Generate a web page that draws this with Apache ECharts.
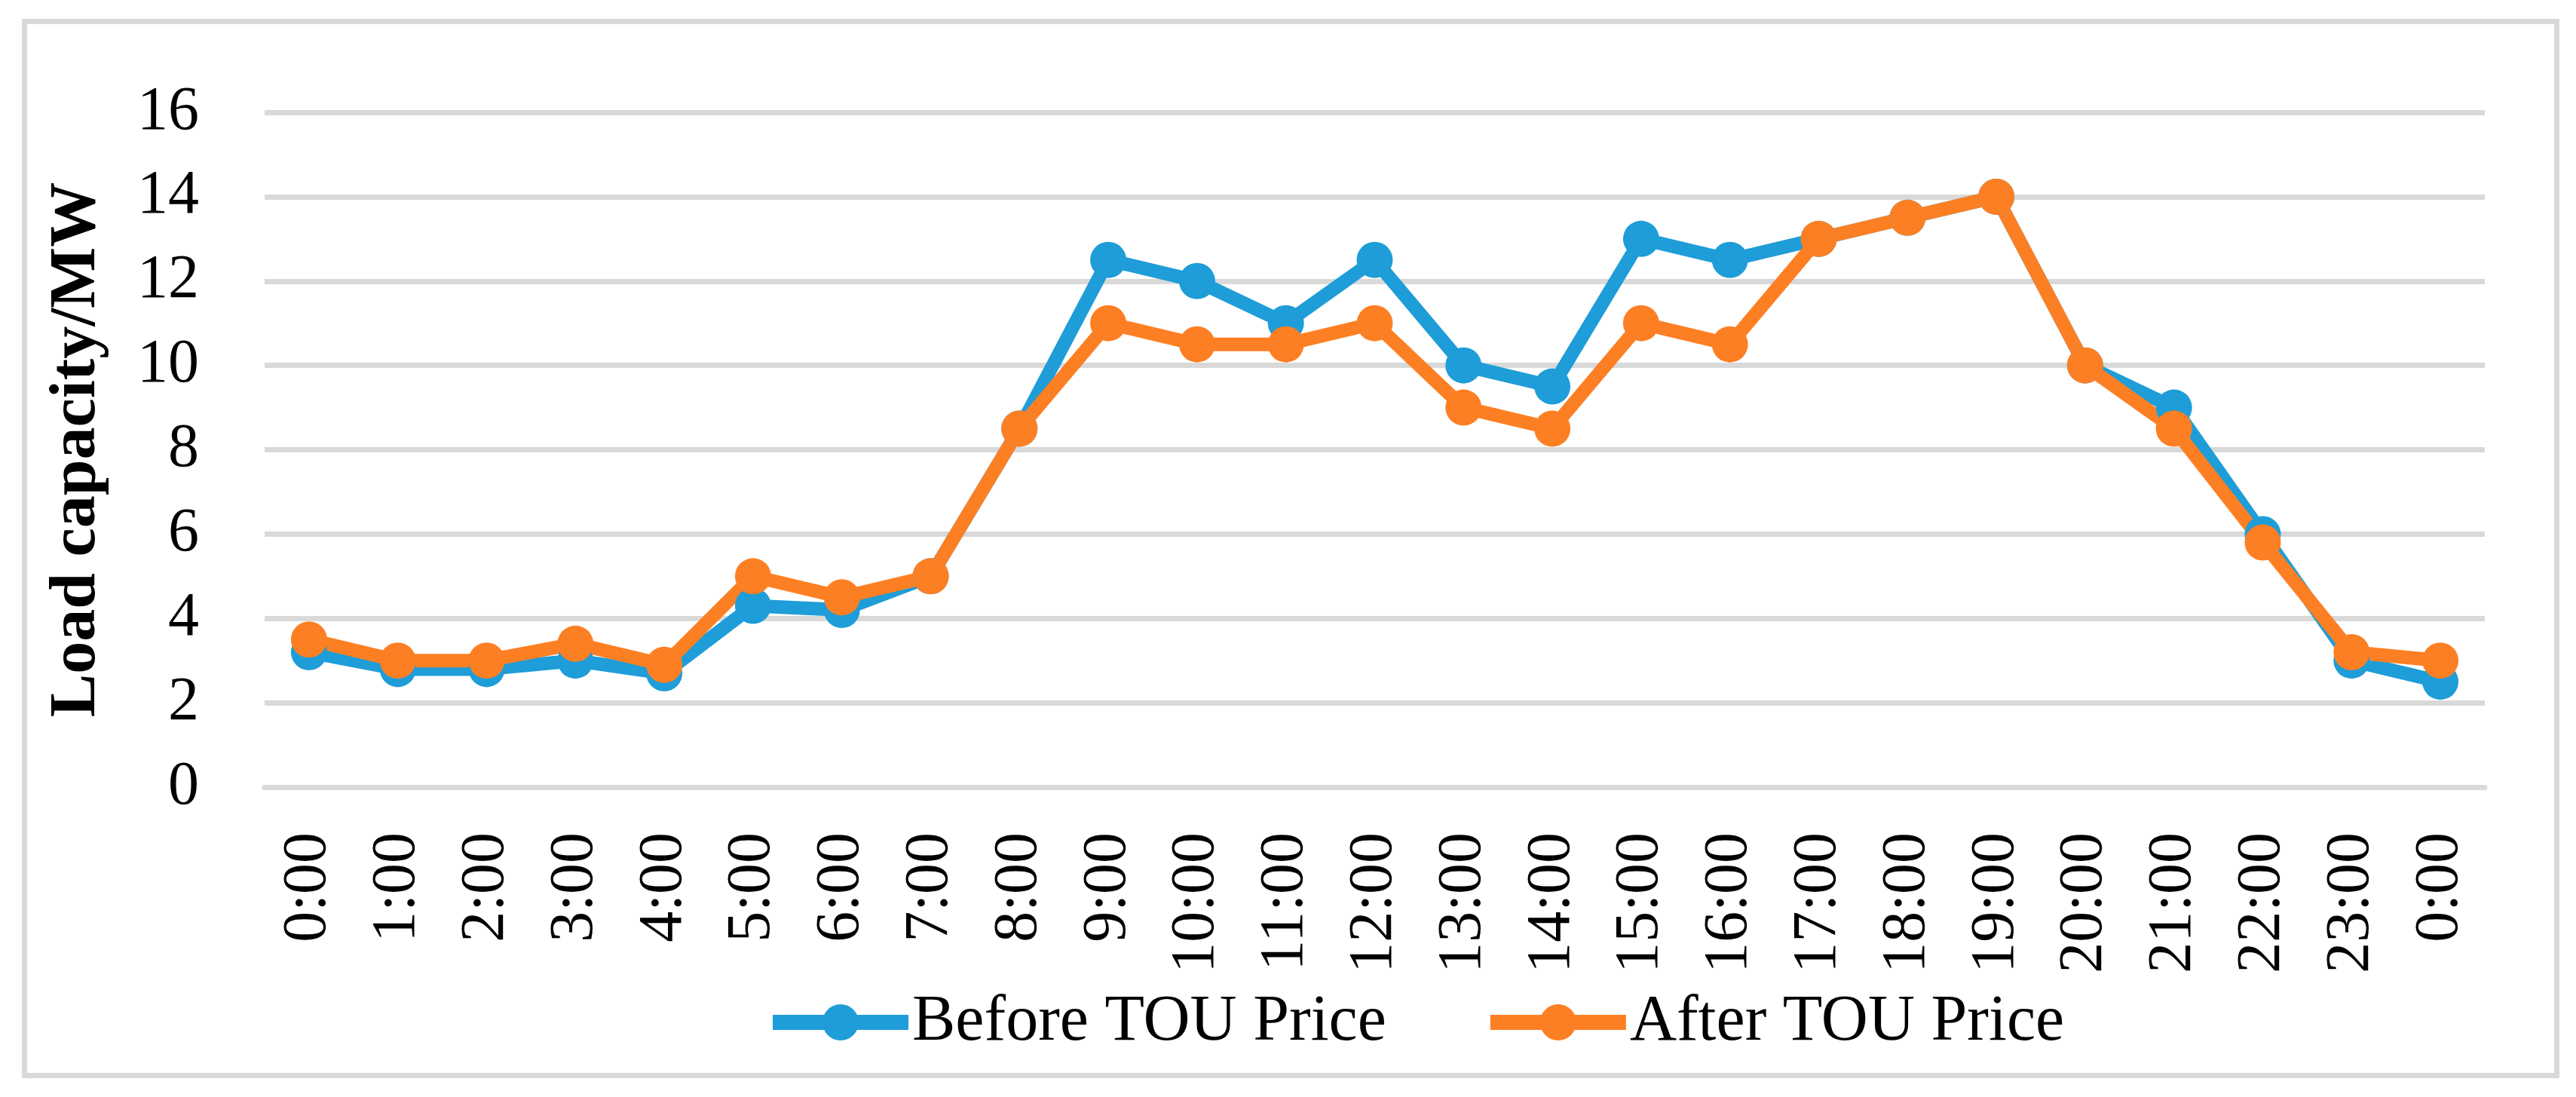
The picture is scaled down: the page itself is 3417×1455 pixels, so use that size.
<!DOCTYPE html>
<html>
<head>
<meta charset="utf-8">
<title>Load capacity before and after TOU price</title>
<script src="https://cdn.jsdelivr.net/npm/echarts@6/dist/echarts.min.js"></script>
<style>
  html, body { margin: 0; padding: 0; background: #fff; }
  #main { width: 3417px; height: 1455px; }
</style>
</head>
<body>
<div id="main"></div>
<script>
var hours = ['0:00', '1:00', '2:00', '3:00', '4:00', '5:00', '6:00', '7:00', '8:00', '9:00',
             '10:00', '11:00', '12:00', '13:00', '14:00', '15:00', '16:00', '17:00', '18:00',
             '19:00', '20:00', '21:00', '22:00', '23:00', '0:00'];
var beforeTOU = [3.2, 2.8, 2.8, 3.0, 2.7, 4.3, 4.2, 5.0, 8.5, 12.5, 12.0, 11.0, 12.5, 10.0, 9.5,
                 13.0, 12.5, 13.0, 13.5, 14.0, 10.0, 9.0, 6.0, 3.0, 2.5];
var afterTOU = [3.5, 3.0, 3.0, 3.4, 2.9, 5.0, 4.5, 5.0, 8.5, 11.0, 10.5, 10.5, 11.0, 9.0, 8.5,
                11.0, 10.5, 13.0, 13.5, 14.0, 10.0, 8.5, 5.8, 3.2, 3.0];
var seriesNames = ['Before TOU Price', 'After TOU Price'];
var yTitle = 'Load capacity/MW';

var fontName = 'Liberation Serif';
var dom = document.getElementById('main');
var myChart = echarts.init(dom);

var option = {
    backgroundColor: '#ffffff',
    animation: false,
    color: ['#1E9DD8', '#FD7F23'],
    graphic: [{
        type: 'rect',
        left: 29, top: 25,
        shape: { width: 3359, height: 1398 },
        style: { fill: 'none', stroke: '#D9D9D9', lineWidth: 7 },
        silent: true
    }],
    grid: {
        left: 351,
        right: 121,
        top: 149,
        bottom: 411
    },
    legend: {
        data: seriesNames,
        left: 1010,
        top: 1308,
        itemWidth: 180,
        itemHeight: 60,
        itemGap: 128,
        lineStyle: { width: 20 },
        textStyle: { fontFamily: fontName, fontSize: 86, color: '#000' }
    },
    xAxis: {
        type: 'category',
        data: hours,
        boundaryGap: true,
        axisLine: { show: true, lineStyle: { color: '#D9D9D9', width: 7 } },
        axisTick: { show: false },
        axisLabel: {
            rotate: 90,
            margin: 60,
            interval: 0,
            fontFamily: fontName,
            fontSize: 82,
            color: '#000'
        }
    },
    yAxis: {
        type: 'value',
        min: 0,
        max: 16,
        interval: 2,
        name: yTitle,
        nameLocation: 'middle',
        nameGap: 205,
        nameTextStyle: { fontFamily: fontName, fontSize: 86, fontWeight: 'bold', color: '#000' },
        axisLine: { show: false },
        axisTick: { show: false },
        splitLine: { lineStyle: { color: '#D9D9D9', width: 7 } },
        axisLabel: {
            margin: 87,
            fontFamily: fontName,
            fontSize: 82,
            color: '#000'
        }
    },
    series: [
        {
            name: seriesNames[0],
            type: 'line',
            data: beforeTOU,
            symbol: 'circle',
            symbolSize: 48,
            showAllSymbol: true,
            lineStyle: { width: 18 }
        },
        {
            name: seriesNames[1],
            type: 'line',
            data: afterTOU,
            symbol: 'circle',
            symbolSize: 48,
            showAllSymbol: true,
            lineStyle: { width: 18 }
        }
    ]
};

if (option && typeof option === 'object') {
    myChart.setOption(option, true);
}
</script>
</body>
</html>
